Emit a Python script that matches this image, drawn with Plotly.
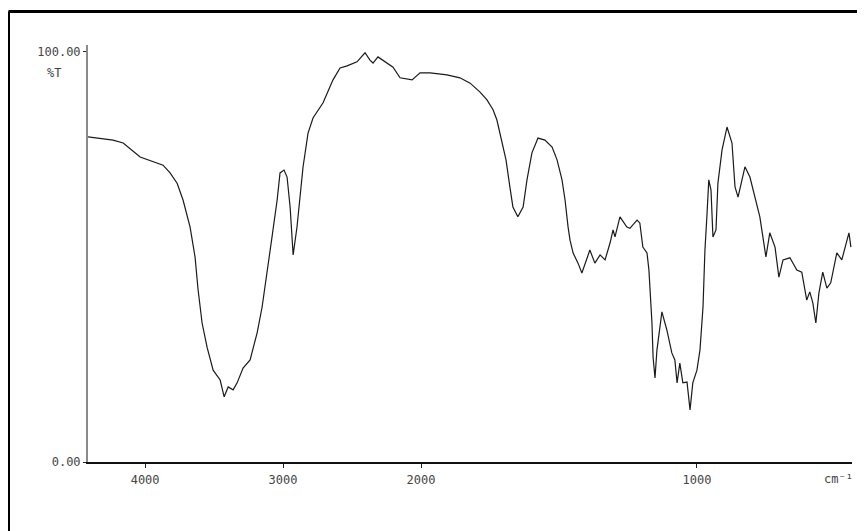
import plotly.graph_objects as go

# IR spectrum (wavenumber in cm-1, transmittance in %T)
wavenumber = [4420, 4232, 4159, 4036, 3870, 3819, 3768, 3725, 3674, 3638,
              3616, 3587, 3551, 3507, 3456, 3427, 3398, 3362, 3333, 3290,
              3239, 3188, 3152, 3116, 3080, 3043, 3022, 2993, 2971, 2949,
              2927, 2899, 2877, 2855, 2819, 2783, 2710, 2638, 2587, 2536,
              2464, 2406, 2370, 2348, 2312, 2203, 2152, 2065, 2007, 1967,
              1906, 1859, 1822, 1786, 1761, 1739, 1725, 1707, 1692, 1678,
              1667, 1649, 1630, 1616, 1598, 1576, 1551, 1525, 1507, 1489,
              1478, 1467, 1460, 1449, 1431, 1417, 1399, 1388, 1370, 1351,
              1333, 1315, 1304, 1297, 1279, 1254, 1243, 1217, 1207, 1196,
              1181, 1174, 1163, 1159, 1152, 1145, 1127, 1109, 1091, 1080,
              1072, 1062, 1051, 1036, 1025, 1015, 1000, 989, 978, 971,
              964, 957, 949, 942, 931, 924, 909, 891, 873, 862,
              851, 826, 808, 790, 772, 761, 750, 736, 717, 703,
              688, 663, 638, 620, 609, 602, 591, 580, 569, 558,
              544, 529, 515, 493, 475, 464, 449, 442]

transmittance = [79.3, 78.5, 77.8, 74.4, 72.4, 70.5, 68.0, 63.9, 57.3, 50.0,
                 42.0, 33.9, 28.0, 22.4, 20.0, 15.9, 18.3, 17.6, 19.3, 22.9,
                 24.9, 31.5, 37.8, 46.0, 54.9, 63.9, 70.5, 71.2, 69.5, 62.2,
                 50.5, 57.3, 65.6, 72.0, 80.2, 83.9, 87.6, 93.2, 96.1, 96.6,
                 97.6, 99.8, 98.0, 97.3, 98.8, 96.3, 93.7, 93.2, 94.9, 94.9,
                 94.4, 93.7, 92.4, 90.2, 88.3, 85.9, 83.4, 78.5, 73.7, 67.1,
                 62.2, 59.8, 62.2, 68.8, 75.4, 79.0, 78.5, 76.8, 73.7, 68.8,
                 63.9, 57.3, 54.1, 51.0, 48.5, 46.1, 49.3, 51.7, 48.5, 50.5,
                 49.3, 53.4, 56.6, 54.9, 59.8, 57.3, 57.0, 59.0, 58.3, 52.4,
                 51.0, 46.8, 33.9, 25.6, 20.5, 27.3, 36.6, 32.2, 26.6, 24.9,
                 19.3, 24.1, 19.3, 19.5, 12.7, 19.3, 22.4, 27.3, 37.8, 51.7,
                 59.8, 68.8, 66.3, 54.9, 56.6, 68.0, 76.1, 81.7, 77.8, 67.1,
                 64.6, 72.0, 69.5, 64.6, 59.8, 54.9, 50.0, 55.9, 52.4, 45.1,
                 49.3, 49.8, 46.8, 46.3, 42.0, 39.5, 41.5, 38.8, 33.9, 41.2,
                 46.3, 42.4, 43.7, 51.0, 49.3, 52.4, 55.9, 52.4]

x_tick_values = [4000, 3000, 2000, 1000]
x_tick_labels = ["4000", "3000", "2000", "1000"]
y_tick_values = [0, 100]
y_tick_labels = ["0.00", "100.00"]


# Spectrometer scale: above 2000 cm-1 the axis is compressed by a factor of 2
def to_axis(w):
    return w if w <= 2000 else 2000 + (w - 2000) / 2.0


xs = [to_axis(w) for w in wavenumber]

OFF = 8  # page body margin
W, H = 857, 523
L, R, T, B = 80, 13, 37, 69
pw, ph = W - L - R, H - T - B


def px_x(p):
    return (p - OFF - L) / pw


def px_y(p):
    return (H - B - (p - OFF)) / ph


font = dict(family="DejaVu Sans Mono", size=12, color="#444444")

fig = go.Figure()
fig.add_trace(go.Scatter(x=xs, y=transmittance, mode="lines",
                         line=dict(color="#1a1a1a", width=1.2),
                         hoverinfo="skip", showlegend=False))

fig.update_layout(
    width=W, height=H,
    margin=dict(l=L, r=R, t=T, b=B, pad=0),
    paper_bgcolor="white", plot_bgcolor="white",
    font=font,
    showlegend=False,
    xaxis=dict(range=[3207, 438], showgrid=False, zeroline=False,
               tickvals=[to_axis(v) for v in x_tick_values],
               ticktext=x_tick_labels,
               ticks="outside", ticklen=4, tickwidth=1, tickcolor="#222",
               ticklabelstandoff=2,
               showline=True, linecolor="#111", linewidth=2,
               tickfont=font),
    yaxis=dict(range=[0, 101.7], showgrid=False, zeroline=False,
               tickvals=y_tick_values, ticktext=y_tick_labels,
               ticks="outside", ticklen=3, tickwidth=1, tickcolor="#222",
               showline=True, linecolor="#8a8a8a", linewidth=2,
               tickfont=font),
    shapes=[
        dict(type="line", xref="paper", yref="paper",
             x0=px_x(8.5), x1=px_x(870), y0=px_y(11.5), y1=px_y(11.5),
             line=dict(color="black", width=3)),
        dict(type="line", xref="paper", yref="paper",
             x0=px_x(8.5), x1=px_x(8.5), y0=px_y(11.5), y1=px_y(540),
             line=dict(color="black", width=3)),
    ],
    annotations=[
        dict(text="%T", xref="paper", yref="paper", x=px_x(54), y=px_y(73),
             showarrow=False, font=font, xanchor="center", yanchor="middle"),
        dict(text="cm⁻¹", xref="paper", yref="paper",
             x=px_x(838), y=px_y(479), showarrow=False, font=font,
             xanchor="center", yanchor="middle"),
    ],
)

fig.write_html("out.html")
